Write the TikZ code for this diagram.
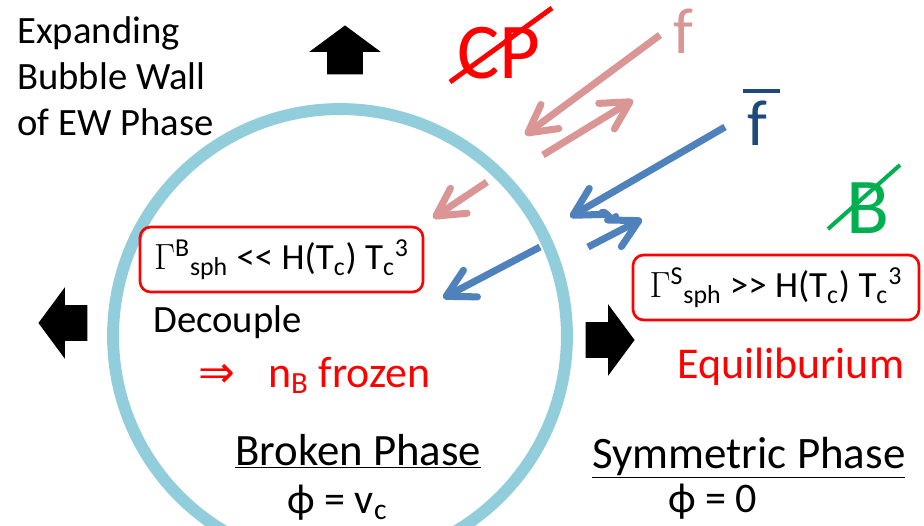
\documentclass[tikz,border=0pt]{standalone}
\usepackage{fontspec}
\setmainfont{Carlito}
\newfontfamily\symfont{DejaVu Sans}
\usepackage{tikz}
\definecolor{wall}{RGB}{146, 205, 220}
\definecolor{fpink}{RGB}{217, 150, 148}
\definecolor{fblue}{RGB}{79, 129, 189}
\definecolor{fdark}{RGB}{31, 73, 125}
\definecolor{bgreen}{RGB}{0, 176, 80}
\usetikzlibrary{shapes.arrows, arrows.meta, calc}

\begin{document}
\begin{tikzpicture}[x=0.02cm, y=-0.02cm,
    txt/.style={inner sep=0pt, anchor=base west, font=\fontsize{#1}{#1}\selectfont},
    rate/.style={draw=red, line width=1.5pt, rounded corners=6pt, inner sep=0pt,
                 minimum width=#1, minimum height=1.3cm, font=\fontsize{21}{25}\selectfont},
    push/.style={single arrow, fill=black, inner xsep=0pt, inner ysep=0.35cm, anchor=tip,
                 minimum height=0.98cm, single arrow head extend=0.36cm,
                 single arrow tip angle=107},
    flow/.style={draw=#1, line width=4pt, -{Straight Barb[round, length=0.55cm, width=0.6cm]}},
    strike/.style={draw=#1, line width=2.8pt}
]
    \useasboundingbox (0,0) rectangle (924,525);

    \draw[wall, line width=6.8pt] (340,336) circle[radius=4.54cm];

    \node[txt=22, anchor=north west, align=left, font=\fontsize{22}{26.4}\selectfont] (title) at (17,16)
        {Expanding\\Bubble Wall\\of EW Phase};

    \node[push, inner xsep=0.35cm, inner ysep=0pt, shape border rotate=90] (up) at (345,25) {};
    \node[push, shape border rotate=180] (left) at (38,323) {};
    \node[push] (right) at (635,340) {};

    \node[txt=45, text=red] (cp) at (457,78) {CP};
    \draw[strike=red] ($(cp.base west)+(-7,4)$) -- ($(cp.base west)+(95,-70)$);

    \node[txt=37, text=fpink] (f) at (673,53) {f};
    \node[txt=37, text=fdark] (fbar) at (747,145) {f};
    \draw[strike=fdark] ($(fbar.base west)+(-4,-54)$) -- ($(fbar.base west)+(33,-54)$);

    \node[txt=45, text=bgreen] (bn) at (846,233) {B};
    \draw[strike=bgreen, line width=2.3pt] ($(bn.base west)+(-18,-4)$) -- ($(bn.base west)+(54,-68)$);

    \coordinate (p1s) at (660,35);  \coordinate (p1e) at (525,135);
    \coordinate (p2s) at (543,155); \coordinate (p2e) at (633,100);
    \coordinate (p3s) at (487,182); \coordinate (p3e) at (433,218);
    \coordinate (b1s) at (725,127); \coordinate (b1e) at (570,217);
    \coordinate (b2s) at (588,247); \coordinate (b2e) at (642,219);
    \coordinate (b3s) at (540,247); \coordinate (b3e) at (443,298);

    \draw[flow=fpink] (p1s) -- (p1e);
    \draw[flow=fpink] (p2s) -- (p2e);
    \draw[flow=fpink] (p3s) -- (p3e);
    \draw[flow=fblue] (b1s) -- (b1e);
    \draw[flow=fblue] (b2s) -- (b2e);
    \draw[flow=fblue] (b3s) -- (b3e);
    \draw[fblue, line width=3.5pt, line cap=round] (600,214) .. controls (606,206) and (610,224) .. (616,216);

    \node[rate=5.66cm] (boxB) at (281.5,259.5)
        {$\Gamma$\textsuperscript{B}\textsubscript{sph} <\kern0pt< H(T\textsubscript{c}) T\textsubscript{c}\textsuperscript{3}};
    \node[rate=5.72cm] (boxS) at (776,287.5)
        {$\Gamma$\textsuperscript{S}\textsubscript{sph} >\kern0pt> H(T\textsubscript{c}) T\textsubscript{c}\textsuperscript{3}};

    \node[txt=22] (dec) at (153,332) {Decouple};
    \node[txt=25, text=red] (frozen) at (198,387) {{\symfont ⇒}\hspace{0.75em}n\textsubscript{B} frozen};
    \node[txt=25, text=red] (eq) at (677,378) {Equiliburium};

    \node[txt=25.5] (broken) at (235,465) {\underline{Broken Phase}};
    \node[txt=24] (vb) at (287,513) {ϕ = v\textsubscript{c}};
    \node[txt=25.6] (sym) at (592,468) {\underline{Symmetric Phase}};
    \node[txt=24] (vs) at (668,512) {ϕ = 0};
\end{tikzpicture}
\end{document}
